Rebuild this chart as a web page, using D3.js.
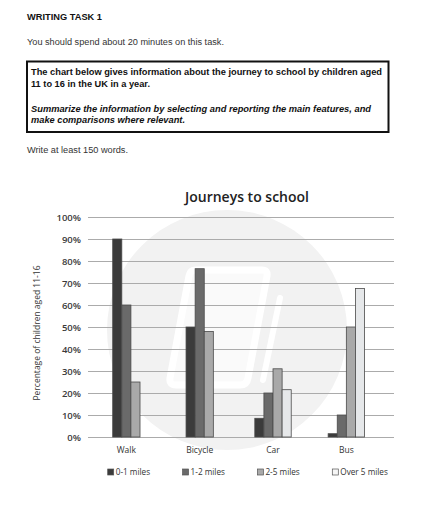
<!DOCTYPE html>
<html>
<head>
<meta charset="utf-8">
<script src="https://cdn.jsdelivr.net/npm/d3@7"></script>
<style>
  html, body { margin: 0; padding: 0; background: #fff; }
  svg { display: block; }
</style>
</head>
<body>
<svg id="chart" width="435" height="512"></svg>
<script>
// ---- Data ----
const categories = ["Walk", "Bicycle", "Car", "Bus"];
const seriesNames = ["0-1 miles", "1-2 miles", "2-5 miles", "Over 5 miles"];
const miles0to1 = [90, 50, 8.5, 1.5];
const miles1to2 = [60, 76.5, 20, 10];
const miles2to5 = [25, 48, 31, 50];
const milesOver5 = [null, null, 21.5, 67.5];
const yTicks = [0, 10, 20, 30, 40, 50, 60, 70, 80, 90, 100];
const chartTitle = "Journeys to school";
const yAxisTitle = "Percentage of children aged 11-16";

const seriesValues = [miles0to1, miles1to2, miles2to5, milesOver5];
const seriesColors = ["#3b3b3b", "#6a6a6a", "#a9a9a9", "#e6e8ea"];

const svg = d3.select("#chart");

// ---- Header (task text) ----
const hdrFont = "'Liberation Sans', Arial, sans-serif";
function hText(x, y, txt, size, weight, style, len) {
  const t = svg.append("text").attr("x", x).attr("y", y).text(txt)
    .attr("font-family", hdrFont).attr("font-size", size)
    .attr("font-weight", weight).attr("font-style", style || "normal")
    .attr("fill", "#111");
  if (len) t.attr("textLength", len).attr("lengthAdjust", "spacingAndGlyphs");
  return t;
}
hText(27, 19.5, "WRITING TASK 1", 8.5, "bold", null, 75);
hText(27, 45, "You should spend about 20 minutes on this task.", 8.5, "normal", null, 197).attr("fill", "#333");
svg.append("rect").attr("x", 27).attr("y", 61.5).attr("width", 361.5).attr("height", 70.5)
  .attr("fill", "none").attr("stroke", "#111").attr("stroke-width", 2);
hText(31, 75, "The chart below gives information about the journey to school by children aged", 9, "bold", null, 351);
hText(31, 86.5, "11 to 16 in the UK in a year.", 9, "bold", null, 119);
hText(31, 111.7, "Summarize the information by selecting and reporting the main features, and", 9, "bold", "italic", 340);
hText(31, 123.2, "make comparisons where relevant.", 9, "bold", "italic", 154);
hText(27, 153, "Write at least 150 words.", 8.5, "normal", null, 101).attr("fill", "#333");

// ---- Chart ----
const chartFont = "'Open Sans', 'Noto Sans', sans-serif";
const gridLeft = 88, gridRight = 394;
const y = d3.scaleLinear().domain([0, 100]).range([437, 217]);
const x0 = d3.scaleBand().domain(categories).range([89.7, 383]);
const barW = 9.1;

// Watermark
const wm = svg.append("g");
wm.append("circle").attr("cx", 227).attr("cy", 330).attr("r", 120).attr("fill", "#f2f2f2");
wm.append("path")
  .attr("d", "M196,270 L262,270 Q268,270 267,276 L248,378 Q247,385 240,385 L176,385 Q169,385 170,378 L189,276 Q190,270 196,270 Z")
  .attr("fill", "#fafafa").attr("stroke", "#ffffff").attr("stroke-width", 7);
wm.append("line").attr("x1", 280).attr("y1", 298).attr("x2", 263).attr("y2", 380)
  .attr("stroke", "#ffffff").attr("stroke-width", 6).attr("stroke-linecap", "round");

// Gridlines + y labels
const yAxis = svg.append("g").attr("transform", `translate(${gridLeft},0)`)
  .call(d3.axisLeft(y).tickValues(yTicks).tickSize(-(gridRight - gridLeft)).tickPadding(7)
    .tickFormat(d => d + "%"));
yAxis.select(".domain").remove();
yAxis.selectAll(".tick line").attr("stroke", "#ababab").attr("stroke-width", 1);
yAxis.selectAll(".tick text").attr("font-family", chartFont).attr("font-size", 9.5)
  .attr("font-weight", 600).attr("fill", "#3a3a3a");

// Bars
categories.forEach((cat, ci) => {
  const present = seriesNames.filter((s, si) => seriesValues[si][ci] != null);
  const center = x0(cat) + x0.bandwidth() / 2;
  const x1 = d3.scaleBand().domain(present)
    .range([center - present.length * barW / 2, center + present.length * barW / 2]);
  const rows = present.map(s => {
    const si = seriesNames.indexOf(s);
    return { s, si, v: seriesValues[si][ci] };
  });
  svg.append("g").selectAll("rect").data(rows).join("rect")
    .attr("x", d => x1(d.s)).attr("width", x1.bandwidth())
    .attr("y", d => y(d.v)).attr("height", d => y(0) - y(d.v))
    .attr("fill", d => seriesColors[d.si])
    .attr("stroke", "#4a4a4a").attr("stroke-width", 0.8);
});

// Category labels
const xAxis = svg.append("g").attr("transform", `translate(0,437)`)
  .call(d3.axisBottom(x0).tickSize(0).tickPadding(10));
xAxis.select(".domain").remove();
xAxis.selectAll(".tick text").attr("font-family", chartFont).attr("font-size", 8.5)
  .attr("fill", "#333");

// Title
svg.append("text").attr("x", 247).attr("y", 202).attr("text-anchor", "middle")
  .attr("font-family", chartFont).attr("font-size", 14).attr("font-weight", 600)
  .attr("fill", "#222").text(chartTitle);

// Y axis title
svg.append("text").attr("transform", "translate(40,333) rotate(-90)")
  .attr("text-anchor", "middle").attr("font-family", chartFont).attr("font-size", 8.5)
  .attr("fill", "#333").text(yAxisTitle);

// Legend
const lx = d3.scalePoint().domain(seriesNames).range([107.7, 332.3]);
const leg = svg.append("g").selectAll("g").data(seriesNames).join("g")
  .attr("transform", d => `translate(${lx(d)},469)`);
leg.append("rect").attr("width", 6).attr("height", 6)
  .attr("fill", (d, i) => i === 3 ? "#f6f6f6" : seriesColors[i])
  .attr("stroke", "#555").attr("stroke-width", 0.7);
leg.append("text").attr("x", 8).attr("y", 6).attr("font-family", chartFont)
  .attr("font-size", 8.2).attr("fill", "#333").text(d => d);
</script>
</body>
</html>
